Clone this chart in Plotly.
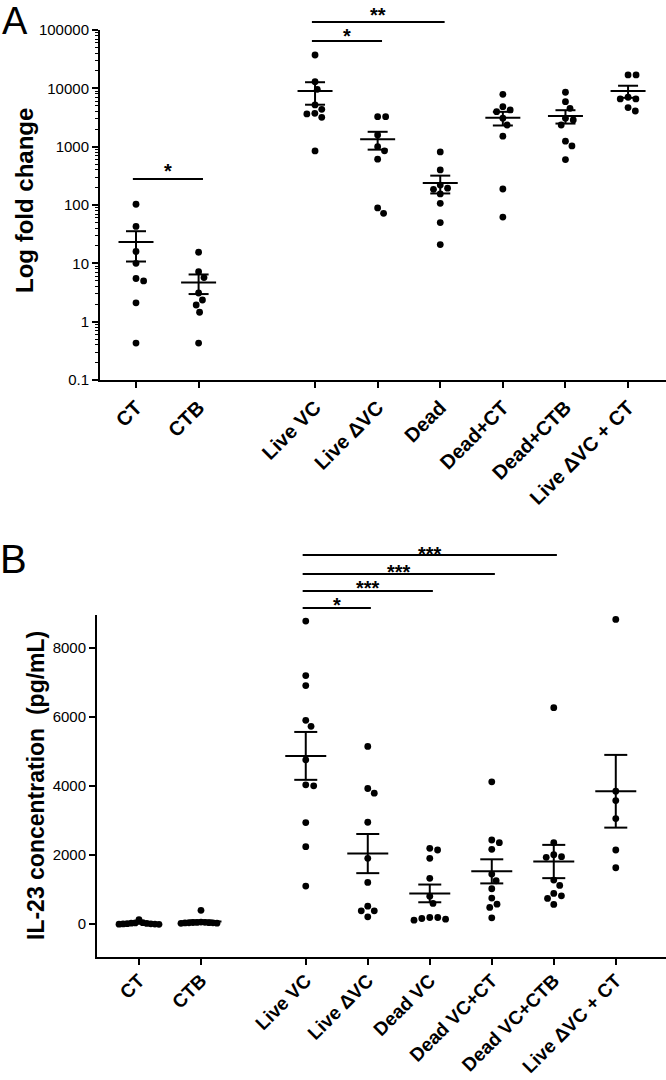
import numpy as np
import plotly.graph_objects as go

# ---------------- data ----------------
groups_a = ["CT", "CTB", "Live VC", "Live ΔVC", "Dead", "Dead+CT", "Dead+CTB", "Live ΔVC + CT"]
a_ct = [103, 43, 16, 10, 5.0, 5.5, 2.1, 0.43]
a_ctb = [15.5, 7.2, 5.7, 3.1, 2.35, 1.93, 1.45, 0.43]
a_live_vc = [37300, 13000, 9600, 5190, 4370, 3640, 3180, 3730, 845]
a_live_dvc = [3270, 3270, 1590, 1000, 850, 610, 72, 89]
a_dead = [811, 400, 194, 186, 220, 155, 107, 50, 21]
a_dead_ct = [7900, 4850, 4270, 3980, 3070, 2350, 1515, 188, 62]
a_dead_ctb = [8570, 5900, 4550, 3070, 2870, 2350, 1240, 1030, 600]
a_live_dvc_ct = [16950, 16950, 6580, 6580, 7030, 4090, 4670]
a_values = [a_ct, a_ctb, a_live_vc, a_live_dvc, a_dead, a_dead_ct, a_dead_ctb, a_live_dvc_ct]
a_yticks = [0.1, 1, 10, 100, 1000, 10000, 100000]
a_yticktext = ["0.1", "1", "10", "100", "1000", "10000", "100000"]
a_comparisons = [(0, 1, "*"), (2, 4, "**"), (2, 3, "*")]

groups_b = ["CT", "CTB", "Live VC", "Live ΔVC", "Dead VC", "Dead VC+CT", "Dead VC+CTB", "Live ΔVC + CT"]
b_ct = [130, 45, 35, 28, 22, 15, 10, 6, 3, 0, -5]
b_ctb = [400, 60, 55, 50, 48, 45, 42, 40, 35, 30, 25]
b_live_vc = [8773, 7197, 6906, 5900, 5726, 4759, 4034, 4005, 2940, 2243, 1103]
b_live_dvc = [5146, 3927, 3792, 2950, 1906, 1210, 387, 522, 387, 213]
b_dead_vc = [2147, 2196, 1906, 1326, 812, 600, 194, 165, 116, 145, 194]
b_dead_vc_ct = [4121, 2437, 2360, 2167, 1451, 1257, 1025, 755, 580, 484, 184]
b_dead_vc_ctb = [6268, 2360, 1954, 1935, 2011, 1277, 1122, 822, 890, 745, 571]
b_live_dvc_ct = [8822, 3850, 3578, 3056, 2147, 1634]
b_values = [b_ct, b_ctb, b_live_vc, b_live_dvc, b_dead_vc, b_dead_vc_ct, b_dead_vc_ctb, b_live_dvc_ct]
b_yticks = [0, 2000, 4000, 6000, 8000]
b_comparisons = [(2, 6, "***"), (2, 5, "***"), (2, 4, "***"), (2, 3, "*")]

# ---------------- layout constants ----------------
W, H = 666, 1080
FONT = "Liberation Sans, Arial, Helvetica, sans-serif"

# panel A geometry (pixels)
A_L, A_R, A_T, A_B = 100, 666, 30, 380
A_POS = [0, 1, 2.86, 3.86, 4.86, 5.86, 6.86, 7.86]
A_XR = [-0.575, 8.466]
A_YR = [-1, 5]
# panel B geometry
B_L, B_R, B_T, B_B = 97, 666, 615, 957
B_POS = [0, 1, 2.69, 3.69, 4.69, 5.69, 6.69, 7.69]
B_XR = [-0.677, 8.5]
B_YR = [-950, 8950]


def px_y_a(v):
    return A_B - (np.log10(v) - A_YR[0]) / (A_YR[1] - A_YR[0]) * (A_B - A_T)


def px_y_b(v):
    return B_B - (np.asarray(v, float) - B_YR[0]) / (B_YR[1] - B_YR[0]) * (B_B - B_T)


def swarm(ypx, D=8.0, cap=20.0):
    ypx = np.asarray(ypx, float)
    n = len(ypx)
    xs = np.zeros(n)
    placed = []
    for idx in np.argsort(ypx):
        y = ypx[idx]
        cands = [0.0]
        for (qx, qy) in placed:
            dy = y - qy
            if abs(dy) < D:
                dx = np.sqrt(D * D - dy * dy)
                cands += [qx + dx, qx - dx]
        cands.sort(key=lambda c: (abs(c), -c))
        chosen = 0.0
        for c in cands:
            if all((c - qx) ** 2 + (y - qy) ** 2 >= D * D - 1e-6 for qx, qy in placed):
                chosen = c
                break
        xs[idx] = chosen
        placed.append((chosen, y))
    m = np.max(np.abs(xs)) if n else 0
    if m > cap:
        xs = xs * cap / m
    return xs


fig = go.Figure()

a_ppu = (A_R - A_L) / (A_XR[1] - A_XR[0])
b_ppu = (B_R - B_L) / (B_XR[1] - B_XR[0])


def add_panel(values, pos, ppu, ypx_fun, xa, ya, mean_hw, cap_hw):
    mx, my, ex, ey = [], [], [], []
    for vals, p in zip(values, pos):
        v = np.asarray(vals, float)
        off = swarm(ypx_fun(v)) / ppu
        mx += list(p + off)
        my += list(v)
        m = v.mean()
        s = v.std(ddof=1) / np.sqrt(len(v))
        ex += [p - mean_hw, p + mean_hw, None]
        ey += [m, m, None]
        ex += [p, p, None, p - cap_hw, p + cap_hw, None, p - cap_hw, p + cap_hw, None]
        ey += [m - s, m + s, None, m + s, m + s, None, m - s, m - s, None]
    fig.add_trace(go.Scatter(x=ex, y=ey, mode="lines", line=dict(color="black", width=2),
                             xaxis=xa, yaxis=ya, hoverinfo="skip", showlegend=False))
    fig.add_trace(go.Scatter(x=mx, y=my, mode="markers",
                             marker=dict(color="black", size=6.8, line=dict(width=0)),
                             xaxis=xa, yaxis=ya, showlegend=False))


add_panel(a_values, A_POS, a_ppu, px_y_a, "x", "y", 17.5 / a_ppu, 10 / a_ppu)
add_panel(b_values, B_POS, b_ppu, px_y_b, "x2", "y2", 20.5 / b_ppu, 11.5 / b_ppu)

shapes, annotations = [], []


def py(p):
    return 1 - p / H


STAR = 20
# significance bars: (bar y px, star-centre y px)
a_bar_px = [(179, 165), (22, 9), (41, 30)]
for (i, j, lab), (ybar, ystar) in zip(a_comparisons, a_bar_px):
    x0, x1 = A_POS[i] - 0.05, A_POS[j] + 0.07
    shapes.append(dict(type="line", xref="x", yref="paper", x0=x0, x1=x1, y0=py(ybar), y1=py(ybar),
                       line=dict(color="black", width=2)))
    annotations.append(dict(text=lab, xref="x", yref="paper", x=(x0 + x1) / 2, y=py(ystar + 0.3 * STAR),
                            xanchor="center", yanchor="middle", showarrow=False,
                            font=dict(family=FONT, size=STAR, color="black", weight="bold")))
b_bar_px = [(555, 548), (574, 566), (591, 582), (608, 599)]
for (i, j, lab), (ybar, ystar) in zip(b_comparisons, b_bar_px):
    x0, x1 = B_POS[i] - 0.05, B_POS[j] + 0.05
    shapes.append(dict(type="line", xref="x2", yref="paper", x0=x0, x1=x1, y0=py(ybar), y1=py(ybar),
                       line=dict(color="black", width=2)))
    annotations.append(dict(text=lab, xref="x2", yref="paper", x=(x0 + x1) / 2, y=py(ystar + 0.3 * STAR),
                            xanchor="center", yanchor="middle", showarrow=False,
                            font=dict(family=FONT, size=STAR, color="black", weight="bold")))

# axis titles and panel letters
annotations += [
    dict(text="Log fold change", xref="paper", yref="paper", x=24 / W, y=py(201), textangle=-90,
         xanchor="center", yanchor="middle", showarrow=False,
         font=dict(family=FONT, size=24, color="black", weight="bold")),
    dict(text="IL-23 concentration \u00a0(pg/mL)", xref="paper", yref="paper", x=36 / W, y=py(786),
         textangle=-90, xanchor="center", yanchor="middle", showarrow=False,
         font=dict(family=FONT, size=23, color="black", weight="bold")),
    dict(text="A", xref="paper", yref="paper", x=15 / W, y=py(21), xanchor="center", yanchor="middle",
         showarrow=False, font=dict(family=FONT, size=38, color="black")),
    dict(text="B", xref="paper", yref="paper", x=13 / W, y=py(559), xanchor="center", yanchor="middle",
         showarrow=False, font=dict(family=FONT, size=40, color="black")),
]

minor_a = [k * 10.0 ** d for d in range(-1, 5) for k in range(2, 10)]

common_x = dict(showline=True, linewidth=2, linecolor="black", ticks="outside", ticklen=6, tickwidth=2,
                tickcolor="black", showgrid=False, zeroline=False, tickangle=-45, tickmode="array",
                automargin=False)
common_y = dict(showline=True, linewidth=2, linecolor="black", ticks="outside", ticklen=6, tickwidth=1.5,
                tickcolor="black", showgrid=False, zeroline=False, tickmode="array",
                tickfont=dict(family=FONT, size=15, color="black"), automargin=False)

fig.update_layout(
    width=W, height=H, margin=dict(l=0, r=0, t=0, b=0),
    paper_bgcolor="white", plot_bgcolor="white", showlegend=False,
    xaxis=dict(common_x, domain=[A_L / W, A_R / W], range=A_XR, tickvals=A_POS, ticktext=groups_a,
               anchor="y", tickfont=dict(family=FONT, size=20, color="black", weight="bold")),
    yaxis=dict(common_y, domain=[py(A_B), py(A_T)], type="log", range=A_YR, tickvals=a_yticks,
               ticktext=a_yticktext, anchor="x",
               minor=dict(tickmode="array", tickvals=minor_a, ticks="outside", ticklen=3.5, tickwidth=1,
                          tickcolor="black", showgrid=False)),
    xaxis2=dict(common_x, domain=[B_L / W, B_R / W], range=B_XR, tickvals=B_POS, ticktext=groups_b,
                anchor="y2", ticklabelstandoff=-3,
                tickfont=dict(family=FONT, size=19, color="black", weight="bold")),
    yaxis2=dict(common_y, domain=[py(B_B), py(B_T)], range=B_YR, tickvals=b_yticks,
                ticktext=[str(t) for t in b_yticks], anchor="x2"),
    shapes=shapes, annotations=annotations,
)

fig.write_html("out.html", config={"displayModeBar": False},
               post_script="document.body.style.margin='0';document.body.style.overflow='hidden';")
